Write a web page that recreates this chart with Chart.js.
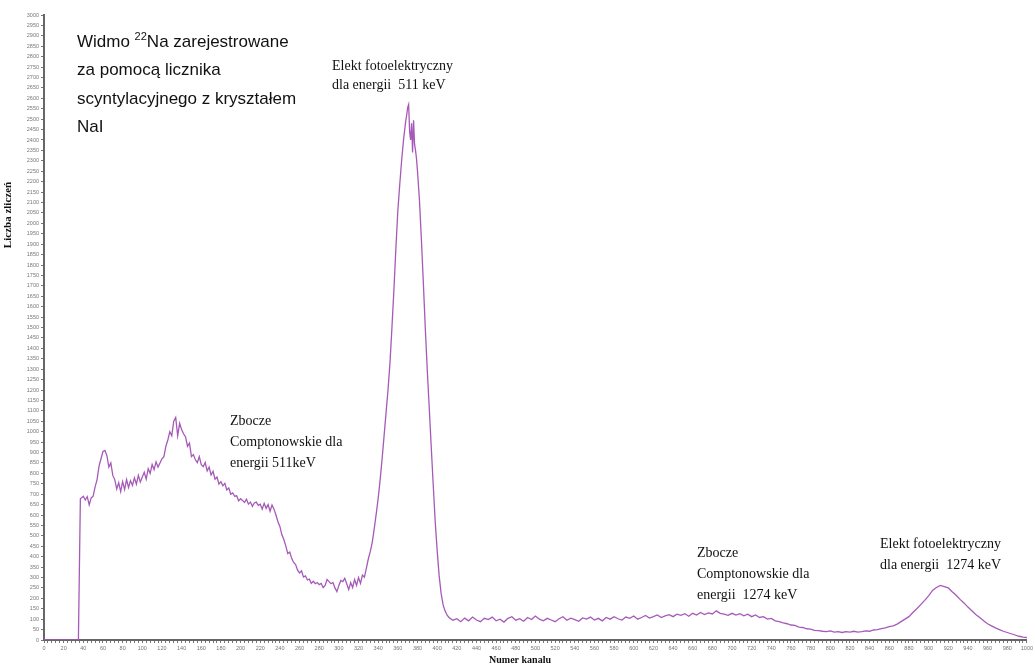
<!DOCTYPE html>
<html>
<head>
<meta charset="utf-8">
<script src="https://cdn.jsdelivr.net/npm/chart.js@4.4.1/dist/chart.umd.min.js"></script>
<style>
  html, body { margin: 0; padding: 0; background: #fff; }
  #wrap { width: 1035px; height: 667px; position: relative; }
</style>
</head>
<body>
<div id="wrap"><canvas id="c" width="1035" height="667"></canvas></div>
<script>
// ---- data ----
const channels = [
  0,4,8,12,16,20,24,28,32,35,37,
  40,42,44,46,48,50,52,54,56,58,60,62,64,66,68,70,72,74,76,78,
  80,82,84,86,88,90,92,94,96,98,100,102,104,106,108,110,112,114,116,118,
  120,122,124,126,128,130,132,134,136,138,140,142,144,146,148,150,152,154,156,158,
  160,162,164,166,168,170,172,174,176,178,180,182,184,186,188,190,192,194,196,198,
  200,202,204,206,208,210,212,214,216,218,220,222,224,226,228,230,232,234,236,238,
  240,242,244,246,248,250,252,254,256,258,260,262,264,266,268,270,272,274,276,278,
  280,282,284,286,288,290,292,294,296,298,300,302,304,306,308,310,312,314,316,318,
  320,322,324,326,328,
  330,332,334,336,338,340,342,344,346,348,350,352,354,356,358,360,362,364,366,368,
  369,370,371,372,373,374,375,376,377,378,379,380,382,384,386,388,390,392,394,396,
  398,400,402,404,406,408,410,412,
  416,420,424,428,432,436,440,444,448,452,456,460,464,468,472,476,480,484,488,492,
  496,500,504,508,512,516,520,524,528,532,536,540,544,548,552,556,560,564,568,572,
  576,580,584,588,592,596,600,604,608,612,616,620,624,628,632,636,640,
  644,648,652,656,660,664,668,672,676,680,684,688,692,696,700,704,708,712,716,720,
  724,728,732,736,740,744,748,752,756,760,764,768,772,776,780,784,788,792,796,800,
  804,808,812,816,820,824,828,832,836,840,844,848,852,856,860,
  864,868,872,876,880,884,888,892,896,900,904,908,912,916,920,924,928,932,936,940,
  944,948,952,956,960,964,968,972,976,980,984,988,992,996,1000
];
const counts = [
  0,0,0,0,0,0,0,0,0,0,678,
  690,672,688,648,682,690,735,770,835,870,905,910,885,830,850,790,770,725,755,712,
  760,722,770,732,765,742,778,748,790,758,782,805,772,822,800,842,818,855,830,850,
  870,880,930,960,1000,980,1050,1068,980,1040,1010,990,975,930,945,880,890,865,852,880,
  842,832,852,812,830,792,810,772,782,748,760,740,752,720,730,700,706,690,692,668,
  678,670,660,676,652,662,642,658,662,646,652,628,656,632,650,618,648,628,600,568,
  545,505,482,452,415,422,392,372,362,335,322,332,302,308,288,292,272,282,270,276,
  266,272,252,262,290,280,270,276,250,232,262,286,280,296,270,242,276,252,290,262,
  300,272,312,302,345,
  390,425,470,535,605,680,770,870,980,1090,1200,1330,1500,1680,1880,2060,2190,2310,2410,2490,
  2520,2555,2570,2440,2400,2480,2340,2495,2380,2350,2310,2250,2110,1920,1710,1490,1290,1110,925,745,
  570,430,310,225,170,140,120,108,
  95,102,88,105,92,110,96,88,104,98,110,92,100,86,104,112,95,102,90,108,
  98,115,100,92,104,96,88,102,112,95,105,98,90,106,100,110,96,104,92,108,
  100,112,102,96,110,104,115,100,108,118,105,112,120,108,116,122,112,
  124,118,126,114,128,120,132,122,130,125,140,128,124,118,128,120,126,116,124,112,
  120,108,112,100,104,92,88,82,78,72,70,62,60,54,52,46,45,42,40,44,
  38,40,36,40,38,42,38,40,44,42,48,50,55,58,64,
  68,76,88,100,112,132,150,170,190,212,238,252,262,256,250,232,215,195,178,158,
  140,122,108,92,78,68,58,50,42,36,30,24,18,14,12
];
const xTickStep = 4;
const xLabelEvery = 20;
const yTickStep = 50;

const points = channels.map((c, i) => ({ x: c, y: counts[i] }));

const textPlugin = {
  id: 'texts',
  afterDraw(chart) {
    const ctx = chart.ctx;
    ctx.save();
    ctx.fillStyle = '#111';
    ctx.textBaseline = 'alphabetic';
    ctx.textAlign = 'left';
    // main title block
    const sans = '"Liberation Sans", Arial, sans-serif';
    ctx.font = '17px ' + sans;
    let x0 = 77;
    ctx.fillText('Widmo ', x0, 47);
    let w = ctx.measureText('Widmo ').width;
    ctx.font = '11px ' + sans;
    ctx.fillText('22', x0 + w, 40);
    let w2 = ctx.measureText('22').width;
    ctx.font = '17px ' + sans;
    ctx.fillText('Na zarejestrowane', x0 + w + w2, 47);
    ctx.fillText('za pomocą licznika', x0, 75);
    ctx.fillText('scyntylacyjnego z kryształem', x0, 104);
    ctx.fillText('NaI', x0, 132);

    // serif annotations
    ctx.font = '14px "Liberation Serif", "Times New Roman", serif';
    ctx.fillText('Elekt fotoelektryczny', 332, 70);
    ctx.fillText('dla energii  511 keV', 332, 89);

    ctx.fillText('Zbocze', 230, 425);
    ctx.fillText('Comptonowskie dla', 230, 446);
    ctx.fillText('energii 511keV', 230, 467);

    ctx.fillText('Zbocze', 697, 557);
    ctx.fillText('Comptonowskie dla', 697, 578);
    ctx.fillText('energii  1274 keV', 697, 599);

    ctx.fillText('Elekt fotoelektryczny', 880, 548);
    ctx.fillText('dla energii  1274 keV', 880, 569);

    // axis titles
    ctx.font = 'bold 10px "Liberation Serif", "Times New Roman", serif';
    ctx.textAlign = 'center';
    ctx.fillText('Numer kanalu', 520, 663);
    ctx.font = 'bold 11px "Liberation Serif", "Times New Roman", serif';
    ctx.translate(11, 215);
    ctx.rotate(-Math.PI / 2);
    ctx.fillText('Liczba zliczeń', 0, 0);
    ctx.restore();
  }
};

new Chart(document.getElementById('c'), {
  type: 'line',
  data: {
    datasets: [{
      data: points,
      borderColor: '#a65ab8',
      borderWidth: 1.3,
      pointRadius: 0,
      tension: 0,
      fill: false
    }]
  },
  options: {
    responsive: false,
    animation: false,
    devicePixelRatio: 1,
    layout: { padding: { top: 15, right: 8, left: 0, bottom: 0 } },
    plugins: { legend: { display: false }, tooltip: { enabled: false } },
    scales: {
      x: {
        type: 'linear',
        min: 0, max: 1000,
        afterFit(s) { s.height = 27; },
        ticks: {
          stepSize: xTickStep,
          autoSkip: false,
          maxRotation: 0,
          maxTicksLimit: 1000,
          font: { size: 5.5, family: '"Liberation Sans", Arial, sans-serif' },
          color: '#777',
          padding: 2,
          callback: (v) => (v % xLabelEvery === 0 ? String(v) : '')
        },
        grid: { drawOnChartArea: false, drawTicks: true, tickLength: 3, tickColor: '#777', tickWidth: 1 },
        border: { color: '#666', width: 2 }
      },
      y: {
        min: 0, max: 3000,
        afterFit(s) { s.width = 44; },
        ticks: {
          stepSize: yTickStep,
          autoSkip: false,
          maxTicksLimit: 1000,
          font: { size: 5.5, family: '"Liberation Sans", Arial, sans-serif' },
          color: '#777',
          padding: 2,
          callback: (v) => String(v)
        },
        grid: { drawOnChartArea: false, drawTicks: true, tickLength: 3, tickColor: '#777', tickWidth: 1 },
        border: { color: '#666', width: 2 }
      }
    }
  },
  plugins: [textPlugin]
});
</script>
</body>
</html>
